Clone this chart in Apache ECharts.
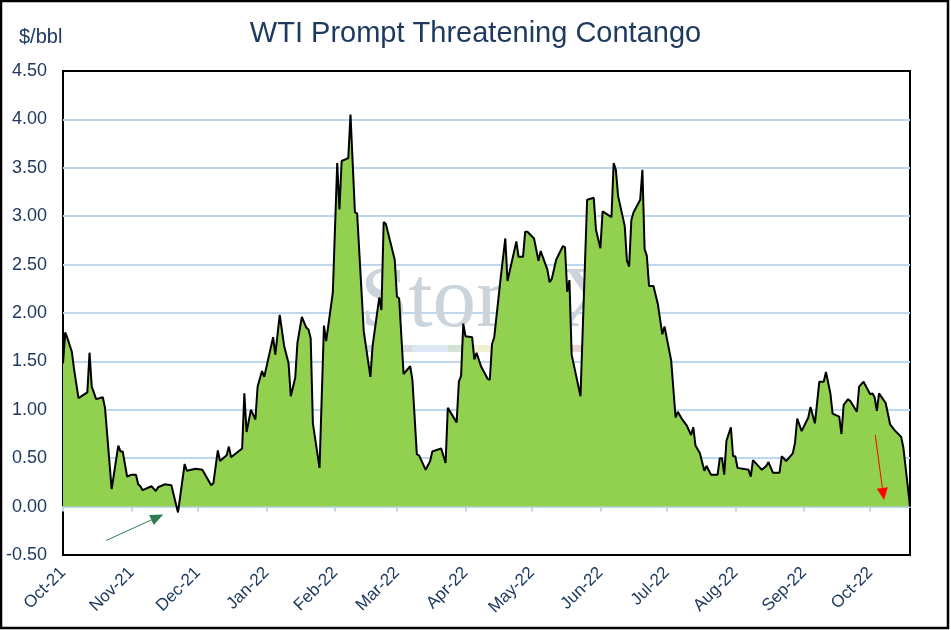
<!DOCTYPE html>
<html>
<head>
<meta charset="utf-8">
<script src="https://cdn.jsdelivr.net/npm/echarts@6.0.0/dist/echarts.min.js"></script>
<style>
html,body{margin:0;padding:0;background:#fff;}
#c{width:951px;height:630px;}
</style>
</head>
<body>
<div id="c"></div>
<script>
// ---- data ----
const dates = [
'2021-10-01','2021-10-02','2021-10-03','2021-10-05','2021-10-06','2021-10-08','2021-10-12','2021-10-13','2021-10-14','2021-10-16',
'2021-10-19','2021-10-20','2021-10-23','2021-10-26','2021-10-27','2021-10-28','2021-10-30','2021-11-01','2021-11-03','2021-11-04',
'2021-11-05','2021-11-06','2021-11-10','2021-11-12','2021-11-13','2021-11-16','2021-11-19','2021-11-22','2021-11-25','2021-11-26',
'2021-11-30','2021-12-03','2021-12-07','2021-12-08','2021-12-10','2021-12-11','2021-12-14','2021-12-15','2021-12-16','2021-12-21',
'2021-12-22','2021-12-23','2021-12-25','2021-12-27','2021-12-28','2021-12-30','2021-12-31','2022-01-04','2022-01-05','2022-01-07',
'2022-01-09','2022-01-11','2022-01-12','2022-01-14','2022-01-15','2022-01-17','2022-01-19','2022-01-20','2022-01-21','2022-01-22',
'2022-01-25','2022-01-27','2022-01-28','2022-01-31','2022-02-02','2022-02-03','2022-02-04','2022-02-07','2022-02-08','2022-02-10',
'2022-02-11','2022-02-14','2022-02-17','2022-02-18','2022-02-21','2022-02-22','2022-02-23','2022-02-24','2022-02-28','2022-03-01',
'2022-03-02','2022-03-04','2022-03-07','2022-03-08','2022-03-10','2022-03-11','2022-03-14','2022-03-16','2022-03-17','2022-03-21',
'2022-03-23','2022-03-24','2022-03-28','2022-03-29','2022-03-30','2022-03-31','2022-04-01','2022-04-04','2022-04-05','2022-04-06',
'2022-04-08','2022-04-11','2022-04-12','2022-04-13','2022-04-14','2022-04-17','2022-04-19','2022-04-20','2022-04-24','2022-04-25',
'2022-04-27','2022-04-28','2022-04-29','2022-05-02','2022-05-04','2022-05-05','2022-05-08','2022-05-09','2022-05-10','2022-05-12',
'2022-05-15','2022-05-16','2022-05-17','2022-05-18','2022-05-19','2022-05-23','2022-05-26','2022-05-29','2022-05-30','2022-06-01',
'2022-06-02','2022-06-06','2022-06-07','2022-06-08','2022-06-09','2022-06-12','2022-06-13','2022-06-14','2022-06-15','2022-06-16',
'2022-06-19','2022-06-20','2022-06-21','2022-06-22','2022-06-23','2022-06-25','2022-06-27','2022-06-29','2022-06-30','2022-07-03',
'2022-07-05','2022-07-06','2022-07-08','2022-07-10','2022-07-12','2022-07-13','2022-07-14','2022-07-16','2022-07-18','2022-07-19',
'2022-07-21','2022-07-24','2022-07-25','2022-07-26','2022-07-27','2022-07-28','2022-07-30','2022-07-31','2022-08-01','2022-08-02',
'2022-08-07','2022-08-08','2022-08-09','2022-08-13','2022-08-15','2022-08-16','2022-08-18','2022-08-21','2022-08-22','2022-08-24',
'2022-08-27','2022-08-28','2022-08-29','2022-08-31','2022-09-03','2022-09-04','2022-09-06','2022-09-08','2022-09-10','2022-09-11',
'2022-09-13','2022-09-14','2022-09-17','2022-09-18','2022-09-19','2022-09-21','2022-09-22','2022-09-25','2022-09-26','2022-09-28',
'2022-10-01','2022-10-02','2022-10-03','2022-10-04','2022-10-05','2022-10-08','2022-10-10','2022-10-12','2022-10-15','2022-10-16',
'2022-10-18','2022-10-19'
];
const spread = [
1.48,1.80,1.74,1.60,1.42,1.12,1.18,1.59,1.24,1.11,
1.13,1.02,0.18,0.63,0.57,0.57,0.31,0.33,0.33,0.23,
0.21,0.17,0.21,0.16,0.20,0.23,0.22,-0.06,0.44,0.37,
0.39,0.38,0.22,0.24,0.58,0.47,0.53,0.62,0.51,0.60,
1.17,0.77,1.00,0.90,1.24,1.40,1.34,1.75,1.57,1.98,
1.66,1.48,1.14,1.33,1.69,1.96,1.85,1.83,1.74,0.86,
0.40,1.87,1.71,2.21,3.55,3.07,3.57,3.60,4.05,3.04,
3.03,1.81,1.34,1.66,2.16,2.03,2.94,2.92,2.55,2.17,
2.15,1.37,1.45,1.31,0.54,0.53,0.38,0.47,0.57,0.60,
0.45,1.02,0.87,1.29,1.35,1.89,1.76,1.75,1.52,1.59,
1.45,1.32,1.31,1.68,1.75,2.38,2.77,2.33,2.74,2.58,
2.58,2.84,2.84,2.77,2.54,2.64,2.45,2.32,2.35,2.55,
2.69,2.68,2.22,2.34,1.57,1.14,3.17,3.19,2.86,2.67,
3.05,2.99,3.55,3.48,3.21,2.90,2.54,2.48,2.96,3.04,
3.17,3.48,2.66,2.59,2.28,2.28,2.09,1.78,1.86,1.51,
0.92,0.98,0.90,0.84,0.74,0.82,0.63,0.55,0.37,0.42,
0.33,0.33,0.50,0.50,0.33,0.68,0.82,0.52,0.52,0.40,
0.38,0.31,0.48,0.38,0.42,0.46,0.35,0.35,0.52,0.47,
0.55,0.66,0.91,0.78,0.92,1.03,0.86,1.29,1.29,1.39,
1.17,0.96,0.93,0.75,1.05,1.11,1.09,0.98,1.24,1.29,
1.16,1.17,1.13,0.99,1.17,1.07,0.85,0.79,0.72,0.61,
0.21,0.00
];
const monthTicks = ['2021-10-01','2021-11-01','2021-12-01','2022-01-01','2022-02-01','2022-03-01','2022-04-01',
  '2022-05-01','2022-06-01','2022-07-01','2022-08-01','2022-09-01','2022-10-01'];
const monthLabels = ['Oct-21','Nov-21','Dec-21','Jan-22','Feb-22','Mar-22','Apr-22','May-22','Jun-22','Jul-22','Aug-22','Sep-22','Oct-22'];
const xRange = ['2021-10-01','2022-10-19'];
const yMin = -0.5, yMax = 4.5, yStep = 0.5;
// annotation arrows (data space): [start, end]
const greenArrow = [['2021-10-20 12:00', -0.35], ['2021-11-12 16:00', -0.11]];
const redArrow = [['2022-10-03 07:00', 0.74], ['2022-10-06 21:00', 0.13]];

// ---- helpers ----
function ts(s){
  const parts = s.split(' ');
  const d = parts[0].split('-').map(Number);
  let h = 0, mi = 0;
  if (parts[1]) { const t = parts[1].split(':').map(Number); h = t[0]; mi = t[1] || 0; }
  return Date.UTC(d[0], d[1]-1, d[2], h, mi);
}
const tickTs = monthTicks.map(ts);
const seriesData = dates.map((d, i) => [ts(d), spread[i]]);

const FONT = '"Liberation Sans", Arial, sans-serif';
const NAVY = '#1F3A60';
const GRID_BLUE = '#BDD7EE';

const chart = echarts.init(document.getElementById('c'), null, {renderer: 'canvas'});
chart.setOption({
  animation: false,
  backgroundColor: '#ffffff',
  title: [
    {text: 'WTI Prompt Threatening Contango', left: 'center', top: 19, padding: 0,
     textStyle: {fontSize: 29, fontWeight: 'normal', color: NAVY, fontFamily: FONT}},
    {text: '$/bbl', left: 19, top: 27, padding: 0,
     textStyle: {fontSize: 20, fontWeight: 'normal', color: NAVY, fontFamily: FONT}}
  ],
  grid: {left: 63, right: 41, top: 71, bottom: 75, show: true, borderColor: '#000', borderWidth: 2,
         backgroundColor: '#fff', containLabel: false, outerBoundsMode: 'none'},
  xAxis: {
    type: 'value',
    min: ts(xRange[0]), max: ts(xRange[1]),
    axisLine: {show: true, onZero: true, lineStyle: {color: GRID_BLUE, width: 2}},
    axisTick: {show: true, customValues: tickTs, length: 5, lineStyle: {color: GRID_BLUE, width: 2}},
    axisLabel: {
      customValues: tickTs, rotate: 45, margin: 15, color: NAVY, fontSize: 17, fontFamily: FONT,
      formatter: function (v) { const i = tickTs.indexOf(v); return i >= 0 ? monthLabels[i] : ''; }
    },
    splitLine: {show: false}
  },
  yAxis: {
    type: 'value', min: yMin, max: yMax, interval: yStep,
    axisLine: {show: false}, axisTick: {show: false},
    axisLabel: {color: NAVY, fontSize: 18, fontFamily: FONT, margin: 16,
                formatter: function (v) { return v.toFixed(2); }},
    splitLine: {show: true, showMinLine: false, showMaxLine: false, lineStyle: {color: GRID_BLUE, width: 2}}
  },
  visualMap: {
    show: false, type: 'piecewise', seriesIndex: 0, dimension: 1,
    pieces: [{lt: 0, color: '#FF0000'}, {gte: 0, lte: 100, color: '#92D050'}]
  },
  graphic: [
    {type: 'text', z: 1, silent: true, style: {x: 360, y: 260, text: 'StoneX',
      font: '87px "Liberation Serif", "DejaVu Serif", serif', fill: '#CBD3DB'}},
    {type: 'rect', z: 1, silent: true, shape: {x: 362, y: 345, width: 50, height: 7}, style: {fill: '#D6DCE4'}},
    {type: 'rect', z: 1, silent: true, shape: {x: 412, y: 345, width: 36, height: 7}, style: {fill: '#DDE8F4'}},
    {type: 'rect', z: 1, silent: true, shape: {x: 448, y: 345, width: 22, height: 7}, style: {fill: '#D3E2D3'}},
    {type: 'rect', z: 1, silent: true, shape: {x: 470, y: 345, width: 22, height: 7}, style: {fill: '#F4EFD2'}},
    {type: 'rect', z: 1, silent: true, shape: {x: 492, y: 345, width: 80, height: 7}, style: {fill: '#E6EDF5'}},
    {type: 'rect', z: 1, silent: true, shape: {x: 572, y: 345, width: 12, height: 7}, style: {fill: '#EED3D3'}},
    {type: 'rect', z: 100, silent: true, shape: {x: 1, y: 1, width: 947, height: 627},
     style: {fill: 'none', stroke: '#000', lineWidth: 2.5}}
  ],
  series: [
    {
      name: 'area', type: 'line', data: seriesData, symbol: 'none', showSymbol: false, silent: true, z: 2,
      lineStyle: {width: 0, opacity: 0}, areaStyle: {opacity: 1}
    },
    {
      name: 'WTI prompt spread', type: 'line', data: seriesData, symbol: 'none', showSymbol: false, silent: true, z: 3,
      lineStyle: {color: '#000', width: 2}, itemStyle: {color: '#000'},
      markLine: {
        silent: true, animation: false, symbol: ['none', 'triangle'], label: {show: false},
        emphasis: {disabled: true},
        data: [
          [{coord: [ts(greenArrow[0][0]), greenArrow[0][1]], lineStyle: {color: '#2F7A55', width: 1, type: 'solid'}, itemStyle: {color: '#2F7A55'}},
           {coord: [ts(greenArrow[1][0]), greenArrow[1][1]], symbolSize: [11, 13]}],
          [{coord: [ts(redArrow[0][0]), redArrow[0][1]], lineStyle: {color: '#FF0000', width: 1, type: 'solid'}, itemStyle: {color: '#FF0000'}},
           {coord: [ts(redArrow[1][0]), redArrow[1][1]], symbolSize: [11, 12]}]
        ]
      }
    }
  ]
});
</script>
</body>
</html>
